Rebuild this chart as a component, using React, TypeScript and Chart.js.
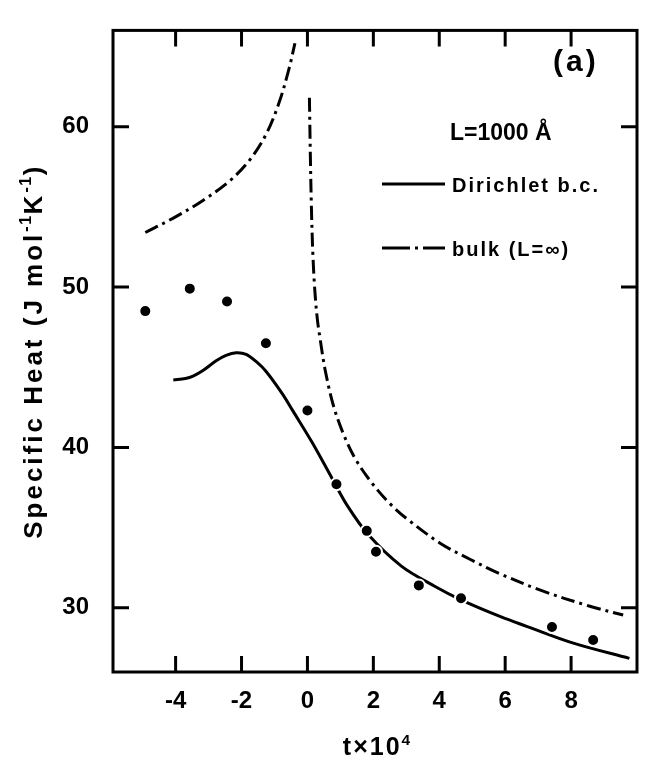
import React, { useEffect, useRef } from 'react';
import { Chart, registerables } from 'chart.js';

Chart.register(...registerables);

const FONT = '"Liberation Sans", Arial, sans-serif';

// Axis ticks (t × 10^4 and specific heat)
const xTicks = [-4, -2, 0, 2, 4, 6, 8];
const yTicks = [30, 40, 50, 60];

// Measured specific heat of the film
const dataT = [-4.92, -3.57, -2.44, -1.26, 0.0, 0.88, 1.8, 2.08, 3.38, 4.66, 7.42, 8.67];
const dataC = [48.5, 49.9, 49.1, 46.5, 42.3, 37.7, 34.8, 33.5, 31.4, 30.6, 28.8, 28.0];

// Theory: film of thickness L = 1000 Å with Dirichlet boundary conditions
const dirichletT = [-4.07, -3.7, -3.47, -3.17, -2.77, -2.47, -2.16, -1.86, -1.56, -1.26, -0.76, -0.46, 0.14, 0.74, 1.2, 1.85, 2.85, 3.86, 4.66, 5.86, 6.65, 8.07, 9.77];
const dirichletC = [44.2, 44.3, 44.45, 44.8, 45.4, 45.74, 45.9, 45.8, 45.36, 44.75, 43.34, 42.34, 40.32, 38.1, 36.4, 34.55, 32.6, 31.35, 30.5, 29.45, 28.85, 27.8, 26.85];

// Bulk (L = ∞), below and above the transition
const bulkLowT = [-4.92, -4.07, -3.17, -2.37, -1.76, -1.26, -0.86, -0.56, -0.38];
const bulkLowC = [53.4, 54.3, 55.4, 56.6, 57.9, 59.5, 61.5, 63.6, 65.2];
const bulkHighT = [0.06, 0.09, 0.12, 0.16, 0.22, 0.3, 0.39, 0.54, 0.79, 1.1, 1.45, 1.95, 2.5, 3.05, 4.05, 4.96, 5.76, 7.07, 8.57, 9.58];
const bulkHighC = [61.8, 58.0, 55.0, 52.3, 49.9, 48.0, 46.7, 44.8, 42.6, 40.8, 39.3, 37.8, 36.5, 35.5, 34.0, 33.0, 32.2, 31.1, 30.1, 29.55];

const DASH_DOT = [14, 5, 3, 5];

const pts = (xs: number[], ys: number[]) => xs.map((x, i) => ({ x, y: ys[i] }));

type Run = { text: string; sup?: boolean };

function setFont(ctx: any, size: number, spacing: number, weight = 'bold') {
  ctx.font = `${weight} ${size}px ${FONT}`;
  ctx.letterSpacing = `${spacing}px`;
}

function drawRuns(ctx: any, runs: Run[], x: number, y: number, size: number, spacing: number, align: 'left' | 'center') {
  const widths: number[] = [];
  let total = 0;
  for (const r of runs) {
    setFont(ctx, r.sup ? size * 0.62 : size, r.sup ? spacing * 0.5 : spacing);
    const w = ctx.measureText(r.text).width;
    widths.push(w);
    total += w;
  }
  let cx = align === 'center' ? x - total / 2 : x;
  runs.forEach((r, i) => {
    setFont(ctx, r.sup ? size * 0.62 : size, r.sup ? spacing * 0.5 : spacing);
    ctx.fillText(r.text, cx, r.sup ? y - size * 0.42 : y);
    cx += widths[i];
  });
}

// Box frame with inward tick marks on all four sides
const framePlugin = {
  id: 'frame',
  afterDatasetsDraw(chart: any) {
    const { ctx, chartArea: a, scales } = chart;
    const x = scales.x;
    const y = scales.y;
    const len = 16;
    ctx.save();
    ctx.strokeStyle = '#000';
    ctx.lineWidth = 3;
    ctx.strokeRect(a.left, a.top, a.right - a.left, a.bottom - a.top);
    ctx.beginPath();
    for (const v of xTicks) {
      const px = x.getPixelForValue(v);
      ctx.moveTo(px, a.bottom);
      ctx.lineTo(px, a.bottom - len);
      ctx.moveTo(px, a.top);
      ctx.lineTo(px, a.top + len);
    }
    for (const v of yTicks) {
      const py = y.getPixelForValue(v);
      ctx.moveTo(a.left, py);
      ctx.lineTo(a.left + len, py);
      ctx.moveTo(a.right, py);
      ctx.lineTo(a.right - len, py);
    }
    ctx.stroke();
    ctx.restore();
  },
};

// Axis titles, panel label and key
const textPlugin = {
  id: 'texts',
  afterDraw(chart: any) {
    const { ctx, chartArea: a } = chart;
    ctx.save();
    ctx.fillStyle = '#000';
    ctx.strokeStyle = '#000';
    ctx.textBaseline = 'alphabetic';
    ctx.textAlign = 'left';

    // y title, rotated
    ctx.save();
    ctx.translate(42, (a.top + a.bottom) / 2);
    ctx.rotate(-Math.PI / 2);
    drawRuns(
      ctx,
      [{ text: 'Specific Heat (J mol' }, { text: '-1', sup: true }, { text: 'K' }, { text: '-1', sup: true }, { text: ')' }],
      0, 0, 26, 3, 'center'
    );
    ctx.restore();

    // x title
    drawRuns(ctx, [{ text: 't\u00d710' }, { text: '4', sup: true }], (a.left + a.right) / 2 + 2, 755, 25, 2, 'center');

    // panel label
    drawRuns(ctx, [{ text: '(a)' }], 553, 71, 30, 3, 'left');

    // film thickness
    drawRuns(ctx, [{ text: 'L=1000 \u00c5' }], 450, 140, 23, 0, 'left');

    // key: Dirichlet
    ctx.lineWidth = 3;
    ctx.setLineDash([]);
    ctx.beginPath();
    ctx.moveTo(382, 184);
    ctx.lineTo(445, 184);
    ctx.stroke();
    drawRuns(ctx, [{ text: 'Dirichlet b.c.' }], 452, 192, 20, 2, 'left');

    // key: bulk
    ctx.beginPath();
    ctx.moveTo(382, 248);
    ctx.lineTo(410, 248);
    ctx.moveTo(415, 248);
    ctx.lineTo(418, 248);
    ctx.moveTo(423, 248);
    ctx.lineTo(445, 248);
    ctx.stroke();
    drawRuns(ctx, [{ text: 'bulk (L=\u221e)' }], 452, 256, 20, 2, 'left');

    ctx.restore();
  },
};

const tickFont = { family: FONT, size: 24, weight: 'bold' as const };

export default function App() {
  const ref = useRef<HTMLCanvasElement>(null);

  useEffect(() => {
    const lineStyle = {
      showLine: true,
      pointRadius: 0,
      borderColor: '#000',
      borderWidth: 3,
      tension: 0.35,
      fill: false,
    };
    const chart = new Chart(ref.current as HTMLCanvasElement, {
      type: 'scatter',
      data: {
        datasets: [
          {
            label: 'data',
            data: pts(dataT, dataC),
            pointRadius: 6,
            pointBackgroundColor: '#000',
            pointBorderColor: '#fff',
            pointBorderWidth: 2,
            showLine: false,
          },
          { label: 'Dirichlet b.c.', data: pts(dirichletT, dirichletC), ...lineStyle },
          { label: 'bulk (L=∞)', data: pts(bulkLowT, bulkLowC), ...lineStyle, borderDash: DASH_DOT },
          { label: 'bulk (L=∞) above', data: pts(bulkHighT, bulkHighC), ...lineStyle, borderDash: DASH_DOT },
        ] as any,
      },
      options: {
        responsive: false,
        animation: false,
        devicePixelRatio: 1,
        layout: { padding: { top: 12, right: 3, left: 0, bottom: 0 } },
        plugins: { legend: { display: false }, tooltip: { enabled: false } },
        scales: {
          x: {
            type: 'linear',
            min: -5.9,
            max: 10,
            grid: { display: false },
            border: { display: false },
            afterBuildTicks: (s: any) => {
              s.ticks = xTicks.map((v) => ({ value: v }));
            },
            afterFit: (s: any) => {
              s.height = 85;
            },
            ticks: {
              font: tickFont,
              color: '#000',
              padding: 7,
              maxRotation: 0,
              autoSkip: false,
              callback: (v: any) => String(v),
            },
          },
          y: {
            type: 'linear',
            min: 26,
            max: 66,
            grid: { display: false },
            border: { display: false },
            afterBuildTicks: (s: any) => {
              s.ticks = yTicks.map((v) => ({ value: v }));
            },
            afterFit: (s: any) => {
              s.width = 113;
            },
            ticks: {
              font: tickFont,
              color: '#000',
              padding: 16,
              autoSkip: false,
              callback: (v: any) => String(v),
            },
          },
        },
      } as any,
      plugins: [framePlugin, textPlugin],
    });
    return () => chart.destroy();
  }, []);

  return (
    <div style={{ position: 'fixed', left: 0, top: 0, width: 645, height: 757, background: '#fff' }}>
      <canvas ref={ref} width={645} height={757} style={{ display: 'block' }} />
    </div>
  );
}
